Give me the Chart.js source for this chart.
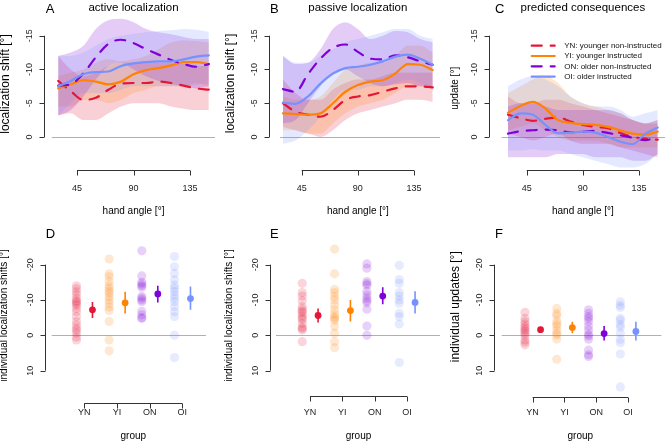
<!DOCTYPE html>
<html><head><meta charset="utf-8">
<script src="https://cdn.jsdelivr.net/npm/chart.js@4"></script>
<style>
html,body{margin:0;padding:0;background:#fff;width:666px;height:442px;overflow:hidden}
canvas{position:absolute;left:0;top:0}
</style></head><body>
<canvas id="cA" width="666" height="442"></canvas>
<canvas id="cB" width="666" height="442"></canvas>
<canvas id="cC" width="666" height="442"></canvas>
<canvas id="cD" width="666" height="442"></canvas>
<canvas id="cE" width="666" height="442"></canvas>
<canvas id="cF" width="666" height="442"></canvas>
<script>
// ---------- data ----------
const angles = [30,40,50,60,70,80,90,100,110,120,130,140,150];
const tickAngles = [45,90,135];
const tickShift = [-15,-10,-5,0];
const tickIndiv = [-20,-10,0,10];
const groups = ['YN','YI','ON','OI'];
const groupNames = ['YN: younger non-instructed','YI: younger instructed','ON: older non-instructed','OI: older instructed'];

// A: active localization
const activeYN = [-8.3,-6.8,-5.5,-5.8,-7.0,-7.9,-8.0,-8.0,-8.2,-8.0,-7.6,-7.2,-7.0];
const activeYI = [-7.2,-7.8,-8.4,-8.2,-7.8,-8.2,-9.3,-9.9,-10.2,-10.6,-11.1,-11.1,-10.8];
const activeON = [-7.6,-7.8,-9.4,-11.8,-13.8,-14.4,-13.9,-13.0,-12.2,-11.4,-10.8,-10.4,-10.8];
const activeOI = [-7.5,-8.3,-9.3,-9.6,-9.7,-10.5,-10.9,-11.1,-11.2,-11.2,-11.5,-11.9,-12.1];
const activeYNhi = [-12,-10,-9,-9.5,-10.5,-11,-11,-11,-11,-11,-10.8,-10.5,-10.5];
const activeYNlo = [-3.2,-3.5,-2.5,-2.5,-3.5,-4.5,-5,-5,-5,-4.5,-4.2,-4,-4];
const activeYIhi = [-9,-9.5,-10,-11,-11.5,-11.2,-11.5,-12,-13,-14,-14.3,-14.2,-14];
const activeYIlo = [-4.5,-4.5,-5.5,-5.5,-5,-5.5,-6.5,-7,-7.5,-7.5,-7.5,-8,-7.5];
const activeONhi = [-12,-12.5,-13.5,-16,-17.3,-17.5,-17,-16,-15.5,-15.2,-14.8,-14.5,-14.5];
const activeONlo = [-3.2,-4,-6,-8.5,-10.5,-11,-10,-9,-8.3,-7.8,-7.5,-7.2,-7.5];
const activeOIhi = [-12,-12,-12.5,-13.5,-14.5,-15,-15.3,-15.5,-15.7,-15.8,-16,-15.9,-15.6];
const activeOIlo = [-3.2,-5,-6.5,-6.5,-6.5,-7,-7.5,-7.5,-7.5,-7.5,-7.5,-7.7,-8];

// B: passive localization
const passiveYN = [-5.0,-3.75,-3.3,-3.0,-4.0,-5.5,-6.0,-6.2,-6.7,-7.2,-7.5,-7.5,-7.35];
const passiveYI = [-3.5,-3.4,-3.3,-3.5,-5.0,-6.7,-7.7,-8.2,-8.4,-9.4,-10.8,-10.7,-9.9];
const passiveON = [-7.1,-6.7,-9.3,-11.6,-13.2,-13.7,-12.6,-11.6,-11.5,-12.1,-11.8,-11.2,-10.7];
const passiveOI = [-5.1,-4.9,-6.0,-7.9,-9.4,-10.2,-10.4,-10.7,-11.2,-11.9,-12.2,-11.6,-10.7];
const passiveYNhi = [-8.5,-6.5,-5.5,-5.5,-7,-8,-8.5,-8.5,-9,-9.5,-9.5,-9.5,-9.5];
const passiveYNlo = [-1.5,-1,-0.5,0,-1,-2.5,-3.5,-4,-4.5,-5,-5.5,-5.5,-5.2];
const passiveYIhi = [-6,-5.5,-5.5,-6,-8,-10,-10.5,-11,-11,-12,-13.5,-13.5,-12.5];
const passiveYIlo = [-1,-1,-0.5,-0.5,-2,-3.5,-4.5,-5,-5.5,-6.5,-7.5,-7.5,-7];
const passiveONhi = [-12,-10.8,-11,-13,-16,-17,-16,-14.5,-15,-15.7,-15.5,-14.5,-14];
const passiveONlo = [-2,-2.5,-5,-7.5,-9.5,-10,-9,-8,-7.5,-7.8,-8,-7.5,-7.5];
const passiveOIhi = [-12,-11,-11,-12,-13,-14,-14.5,-15,-15.5,-16,-16,-15,-14.5];
const passiveOIlo = [1,0.5,-1,-3,-5.5,-7,-7,-7.5,-7.5,-8,-8.5,-8,-7];

// C: predicted consequences
const updateYN = [-3.3,-2.8,-2.4,-2.7,-2.9,-2.3,-1.8,-1.5,-1.3,-0.6,0,0.25,0.4];
const updateYI = [-3.6,-4.6,-5.2,-4.2,-2.5,-2.1,-1.9,-1.8,-1.5,-1.0,-0.5,-0.35,-0.8];
const updateON = [-0.5,-0.85,-1.0,-1.1,-1.0,-0.7,-0.8,-0.9,-0.6,-0.25,0.1,0.45,0];
const updateOI = [-2.5,-3.5,-3.3,-1.8,-0.55,-0.65,-0.8,-0.65,0,0.7,1.05,-0.5,-1.4];
const updateYNhi = [-6,-5,-5,-5.5,-5.5,-5,-4.5,-4,-3.5,-3,-2.5,-2,-2];
const updateYNlo = [-0.5,0,0.5,0,-0.5,0.5,1,1,1,1.5,2,2.5,3];
const updateYIhi = [-6.5,-7.5,-8.5,-9,-8,-6,-5,-4.5,-4,-3.5,-2.5,-2,-2.5];
const updateYIlo = [-1,-1.5,-2,-1,0,0.5,0.5,0.5,1,1.5,1.5,1.5,1.5];
const updateONhi = [-4.5,-5,-5,-4.5,-4,-4,-4,-4,-4,-3.5,-2.5,-2,-2.5];
const updateONlo = [3,3,3,3,2.5,2.5,2.5,3,3,3,3.5,3.5,2.5];
const updateOIhi = [-7.5,-8.5,-9,-8.5,-7.5,-6,-5,-4.5,-4.5,-4,-3,-3.5,-4];
const updateOIlo = [2,2,1.8,2,2,2.5,3,3.5,4,4.5,4.5,4,2.5];

// D: individual active localization shifts
const indivActiveYN = [-14.0,-13.2,-12.3,-11.5,-10.5,-9.8,-9.4,-9.0,-8.5,-7.6,-6.7,-5.3,-3.9,-2.9,-2.0,-1.4,-0.6,0.5,1.3];
const indivActiveYI = [-21.6,-17.4,-16.6,-15.2,-14.0,-13.3,-12.5,-11.9,-10.9,-10.0,-9.1,-8.0,-7.0,-3.9,1.3,4.4];
const indivActiveON = [-23.9,-16.8,-15.0,-14.5,-14.0,-13.6,-11.0,-10.5,-10.0,-9.5,-6.8,-5.8,-5.0,-4.8];
const indivActiveOI = [-22.3,-19.4,-17.5,-15.7,-14.2,-13.3,-12.4,-11.4,-10.5,-9.5,-8.1,-6.7,-5.3,0.0,6.3];
const meanActive = [-7.2,-9.2,-11.7,-10.4];
const ciActiveLo = [-9.4,-12.3,-14.0,-13.8];
const ciActiveHi = [-4.9,-6.2,-9.3,-7.2];

// E: individual passive localization shifts
const indivPassiveYN = [-14.7,-12.1,-11.1,-9.8,-8.1,-7.4,-6.8,-6.4,-5.5,-4.9,-4.5,-3.4,-2.3,-1.9,-1.5,1.8];
const indivPassiveYI = [-24.4,-17.4,-13.0,-12.1,-11.0,-10.0,-8.6,-7.2,-6.0,-5.2,-4.8,-4.2,-2.5,-0.6,1.8,3.5];
const indivPassiveON = [-20.2,-19.0,-15.2,-14.6,-14.2,-12.4,-11.4,-10.5,-9.8,-9.2,-7.4,-2.6,0.0];
const indivPassiveOI = [-19.8,-15.8,-14.7,-12.1,-11.1,-10.0,-9.1,-6.2,-5.3,-3.2,7.7];
const meanPassive = [-5.6,-7.0,-11.1,-9.3];
const ciPassiveLo = [-7.6,-10.0,-13.6,-12.5];
const ciPassiveHi = [-3.6,-3.9,-8.8,-6.2];

// F: individual updates
const indivUpdateYN = [-6.5,-4.8,-3.9,-3.2,-2.5,-2.0,-1.5,-1.0,-0.5,0.2,1.3,2.0,2.7];
const indivUpdateYI = [-7.6,-6.2,-5.5,-4.0,-3.2,-2.6,-1.5,-0.6,-0.1,1.1,6.8];
const indivUpdateON = [-7.2,-6.2,-5.3,-4.8,-3.9,-2.6,-1.5,-0.3,0.2,1.1,4.2,5.5,6.0];
const indivUpdateOI = [-9.5,-8.5,-7.9,-4.8,-4.2,-3.0,-2.3,-0.6,1.1,2.1,5.3,14.6];
const meanUpdate = [-1.6,-2.2,-0.5,-1.1];
const ciUpdateLo = [-2.4,-3.8,-2.6,-3.8];
const ciUpdateHi = [-0.8,-0.6,1.5,1.5];

// ---------- styles ----------
const FONT = '"Liberation Sans", Arial, Helvetica, sans-serif';
const COL = { YN:[229,22,54], YI:[255,130,0], ON:[127,0,216], OI:[118,146,255] };
const DASHED = { YN:true, YI:false, ON:true, OI:false };
const rgba = (c,a) => `rgba(${c[0]},${c[1]},${c[2]},${a})`;
const AXIS = '#333333', TXT = '#222222';

// R-style axes plugin (uses the chart's own scales for placement)
const rAxes = {
  id: 'rAxes',
  beforeDatasetsDraw(chart, args, o) {
    const {ctx, chartArea: ca, scales: {y}} = chart;
    const y0 = Math.round(y.getPixelForValue(0)) + 0.5;
    ctx.save(); ctx.strokeStyle = '#b0b0b0'; ctx.lineWidth = 1;
    ctx.beginPath(); ctx.moveTo(ca.left, y0); ctx.lineTo(ca.right, y0); ctx.stroke();
    ctx.restore();
  },
  afterDraw(chart, args, o) {
    const {ctx, scales: {x, y}} = chart;
    ctx.save();
    ctx.strokeStyle = AXIS; ctx.fillStyle = TXT; ctx.lineWidth = 1;
    // y axis
    const ax = Math.round(o.yAxisX) + 0.5;
    const yt = o.yTicks;
    ctx.beginPath();
    ctx.moveTo(ax, y.getPixelForValue(yt[0])); ctx.lineTo(ax, y.getPixelForValue(yt[yt.length-1]));
    yt.forEach(v => { const p = Math.round(y.getPixelForValue(v)) + 0.5; ctx.moveTo(ax, p); ctx.lineTo(ax - 5, p); });
    ctx.stroke();
    ctx.font = `9px ${FONT}`; ctx.textAlign = 'center'; ctx.textBaseline = 'middle';
    yt.forEach(v => {
      const p = y.getPixelForValue(v);
      ctx.save(); ctx.translate(ax - 15, p); ctx.rotate(-Math.PI/2); ctx.fillText(String(v), 0, 0); ctx.restore();
    });
    ctx.fillStyle = '#000';
    ctx.font = `${o.yTitleSize}px ${FONT}`;
    ctx.save(); ctx.translate(ax - o.yTitleGap, o.yTitleY); ctx.rotate(-Math.PI/2); ctx.fillText(o.yTitle, 0, 0); ctx.restore();
    // x axis
    const ay = Math.round(o.xAxisY) + 0.5;
    const xt = o.xTicks;
    const px0 = x.getPixelForValue(xt[0]), px1 = x.getPixelForValue(xt[xt.length-1]);
    ctx.beginPath();
    ctx.moveTo(px0, ay); ctx.lineTo(px1, ay);
    xt.forEach(v => { const p = Math.round(x.getPixelForValue(v)) + 0.5; ctx.moveTo(p, ay); ctx.lineTo(p, ay + 5); });
    ctx.stroke();
    ctx.fillStyle = TXT; ctx.font = `9px ${FONT}`;
    xt.forEach((v, i) => ctx.fillText(o.xLabels[i], x.getPixelForValue(v), o.xLabelY));
    ctx.fillStyle = '#000'; ctx.font = `10px ${FONT}`;
    const mid = (px0 + px1) / 2;
    ctx.fillText(o.xTitle, mid, o.xTitleY);
    // title and panel letter
    ctx.textBaseline = 'alphabetic';
    if (o.title) { ctx.font = `11.5px ${FONT}`; ctx.fillText(o.title, mid, o.titleY); }
    ctx.textAlign = 'left'; ctx.font = `13px ${FONT}`;
    ctx.fillText(o.letter, o.letterX, o.letterY);
    // legend
    if (o.legend) {
      const curves = chart.data.datasets.filter(d => d.isCurve);
      ctx.font = `8px ${FONT}`; ctx.textBaseline = 'middle';
      curves.forEach((d, i) => {
        const yy = o.legend.y + i * o.legend.step;
        ctx.save(); ctx.strokeStyle = d.borderColor; ctx.lineWidth = d.borderWidth; ctx.lineCap = 'round';
        ctx.setLineDash(d.borderDash || []);
        ctx.beginPath(); ctx.moveTo(o.legend.x, yy); ctx.lineTo(o.legend.x + 23, yy); ctx.stroke(); ctx.restore();
        ctx.fillStyle = '#111'; ctx.fillText(d.label, o.legend.x + 32.5, yy);
      });
    }
    ctx.restore();
  }
};

function span(v0, p0, ppu, a, b) { return [v0 + (a - p0) / ppu, v0 + (b - p0) / ppu]; }

function curveDatasets(means, his, los) {
  const ds = [];
  groups.forEach((g, i) => {
    ds.push({ data: angles.map((a,k) => ({x:a, y:his[i][k]})), borderWidth:0, borderColor:'rgba(0,0,0,0)', pointRadius:0, fill:false, cubicInterpolationMode:'monotone', order: 20 - i });
    ds.push({ data: angles.map((a,k) => ({x:a, y:los[i][k]})), borderWidth:0, borderColor:'rgba(0,0,0,0)', pointRadius:0, fill:'-1', backgroundColor: rgba(COL[g], 0.2), cubicInterpolationMode:'monotone', order: 20 - i });
  });
  groups.forEach((g, i) => {
    ds.push({ label: groupNames[i], isCurve: true, data: angles.map((a,k) => ({x:a, y:means[i][k]})), borderColor: rgba(COL[g],1), borderWidth: 2.2, borderDash: DASHED[g] ? [10,9] : [], borderCapStyle:'round', pointRadius:0, fill:false, cubicInterpolationMode:'monotone', order: 8 - i });
  });
  return ds;
}

function dotDatasets(indivs, means, lo, hi) {
  const ds = [];
  groups.forEach((g, i) => {
    ds.push({ data: indivs[i].map(v => ({x: i + 1 - 0.24, y: v})), backgroundColor: rgba(COL[g], 0.18), borderWidth:0, pointRadius:4.6, order: 10 });
  });
  groups.forEach((g, i) => {
    ds.push({ data: [{x: i + 1.25, y: lo[i]}, {x: i + 1.25, y: hi[i]}], showLine: true, borderColor: rgba(COL[g],1), borderWidth:1.6, pointRadius:0, order: 3 });
    ds.push({ data: [{x: i + 1.25, y: means[i]}], backgroundColor: rgba(COL[g],1), borderWidth:0, pointRadius:3.4, order: 1 });
  });
  return ds;
}

function makeChart(id, type, datasets, area, xmap, ymap, axes) {
  const [xmin, xmax] = span(xmap[0], xmap[1], xmap[2], area.l, area.r);
  const [ymin, ymax] = span(ymap[0], ymap[1], ymap[2], area.t, area.b);
  return new Chart(document.getElementById(id), {
    type, data: { datasets },
    options: {
      responsive: false, animation: false, events: [],
      layout: { padding: { left: area.l, right: 666 - area.r, top: area.t, bottom: 442 - area.b } },
      scales: {
        x: { type: 'linear', min: xmin, max: xmax, display: false },
        y: { type: 'linear', min: ymin, max: ymax, reverse: true, display: false }
      },
      plugins: { legend: { display: false }, tooltip: { enabled: false }, rAxes: axes }
    },
    plugins: [rAxes]
  });
}

const topY = [0, 137, 6.753];
const botY = [0, 335.3, 3.533];
const angleLabels = tickAngles.map(String);

makeChart('cA', 'line', curveDatasets([activeYN,activeYI,activeON,activeOI],[activeYNhi,activeYIhi,activeONhi,activeOIhi],[activeYNlo,activeYIlo,activeONlo,activeOIlo]),
  {l:51.7, r:215, t:3, b:170}, [45, 77, 1.2556], topY,
  { yAxisX:44, yTicks:tickShift, yTitle:'localization shift [°]', yTitleSize:12, yTitleGap:39, yTitleY:84,
    xAxisY:170, xTicks:tickAngles, xLabels:angleLabels, xLabelY:188.3, xTitle:'hand angle [°]', xTitleY:211.7,
    title:'active localization', titleY:10.5, letter:'A', letterX:45.7, letterY:12.7 });

makeChart('cB', 'line', curveDatasets([passiveYN,passiveYI,passiveON,passiveOI],[passiveYNhi,passiveYIhi,passiveONhi,passiveOIhi],[passiveYNlo,passiveYIlo,passiveONlo,passiveOIlo]),
  {l:280, r:440, t:3, b:170}, [45, 301.7, 1.248], topY,
  { yAxisX:269, yTicks:tickShift, yTitle:'localization shift [°]', yTitleSize:12, yTitleGap:39, yTitleY:83.5,
    xAxisY:170, xTicks:tickAngles, xLabels:angleLabels, xLabelY:188.3, xTitle:'hand angle [°]', xTitleY:211.7,
    title:'passive localization', titleY:10.5, letter:'B', letterX:270, letterY:12.7 });

makeChart('cC', 'line', curveDatasets([updateYN,updateYI,updateON,updateOI],[updateYNhi,updateYIhi,updateONhi,updateOIhi],[updateYNlo,updateYIlo,updateONlo,updateOIlo]),
  {l:501.7, r:665, t:3, b:170}, [45, 526.7, 1.248], topY,
  { yAxisX:489, yTicks:tickShift, yTitle:'update [°]', yTitleSize:10, yTitleGap:34, yTitleY:88.3,
    xAxisY:170, xTicks:tickAngles, xLabels:angleLabels, xLabelY:188.3, xTitle:'hand angle [°]', xTitleY:211.7,
    title:'predicted consequences', titleY:10.5, letter:'C', letterX:495, letterY:12.7,
    legend: { x:531.7, y:45.7, step:10.3 } });

makeChart('cD', 'scatter', dotDatasets([indivActiveYN,indivActiveYI,indivActiveON,indivActiveOI], meanActive, ciActiveLo, ciActiveHi),
  {l:51.7, r:206, t:238, b:395}, [1, 84.3, 32.67], botY,
  { yAxisX:45, yTicks:tickIndiv, yTitle:'individual localization shifts [°]', yTitleSize:10, yTitleGap:41, yTitleY:315.5,
    xAxisY:402.7, xTicks:[1,2,3,4], xLabels:groups, xLabelY:413, xTitle:'group', xTitleY:436.7,
    letter:'D', letterX:45.7, letterY:238.3 });

makeChart('cE', 'scatter', dotDatasets([indivPassiveYN,indivPassiveYI,indivPassiveON,indivPassiveOI], meanPassive, ciPassiveLo, ciPassiveHi),
  {l:276, r:440, t:238, b:395}, [1, 310, 32.33], botY,
  { yAxisX:270, yTicks:tickIndiv, yTitle:'individual localization shifts [°]', yTitleSize:10, yTitleGap:41, yTitleY:315.5,
    xAxisY:396, xTicks:[1,2,3,4], xLabels:groups, xLabelY:413, xTitle:'group', xTitleY:436.7,
    letter:'E', letterX:270, letterY:238.3 });

makeChart('cF', 'scatter', dotDatasets([indivUpdateYN,indivUpdateYI,indivUpdateON,indivUpdateOI], meanUpdate, ciUpdateLo, ciUpdateHi),
  {l:501.7, r:665, t:238, b:395}, [1, 533.3, 32.5], botY,
  { yAxisX:494, yTicks:tickIndiv, yTitle:'individual updates [°]', yTitleSize:12, yTitleGap:39, yTitleY:306.7,
    xAxisY:397, xTicks:[1,2,3,4], xLabels:groups, xLabelY:413, xTitle:'group', xTitleY:436.7,
    letter:'F', letterX:495, letterY:238.3 });
</script>
</body></html>
